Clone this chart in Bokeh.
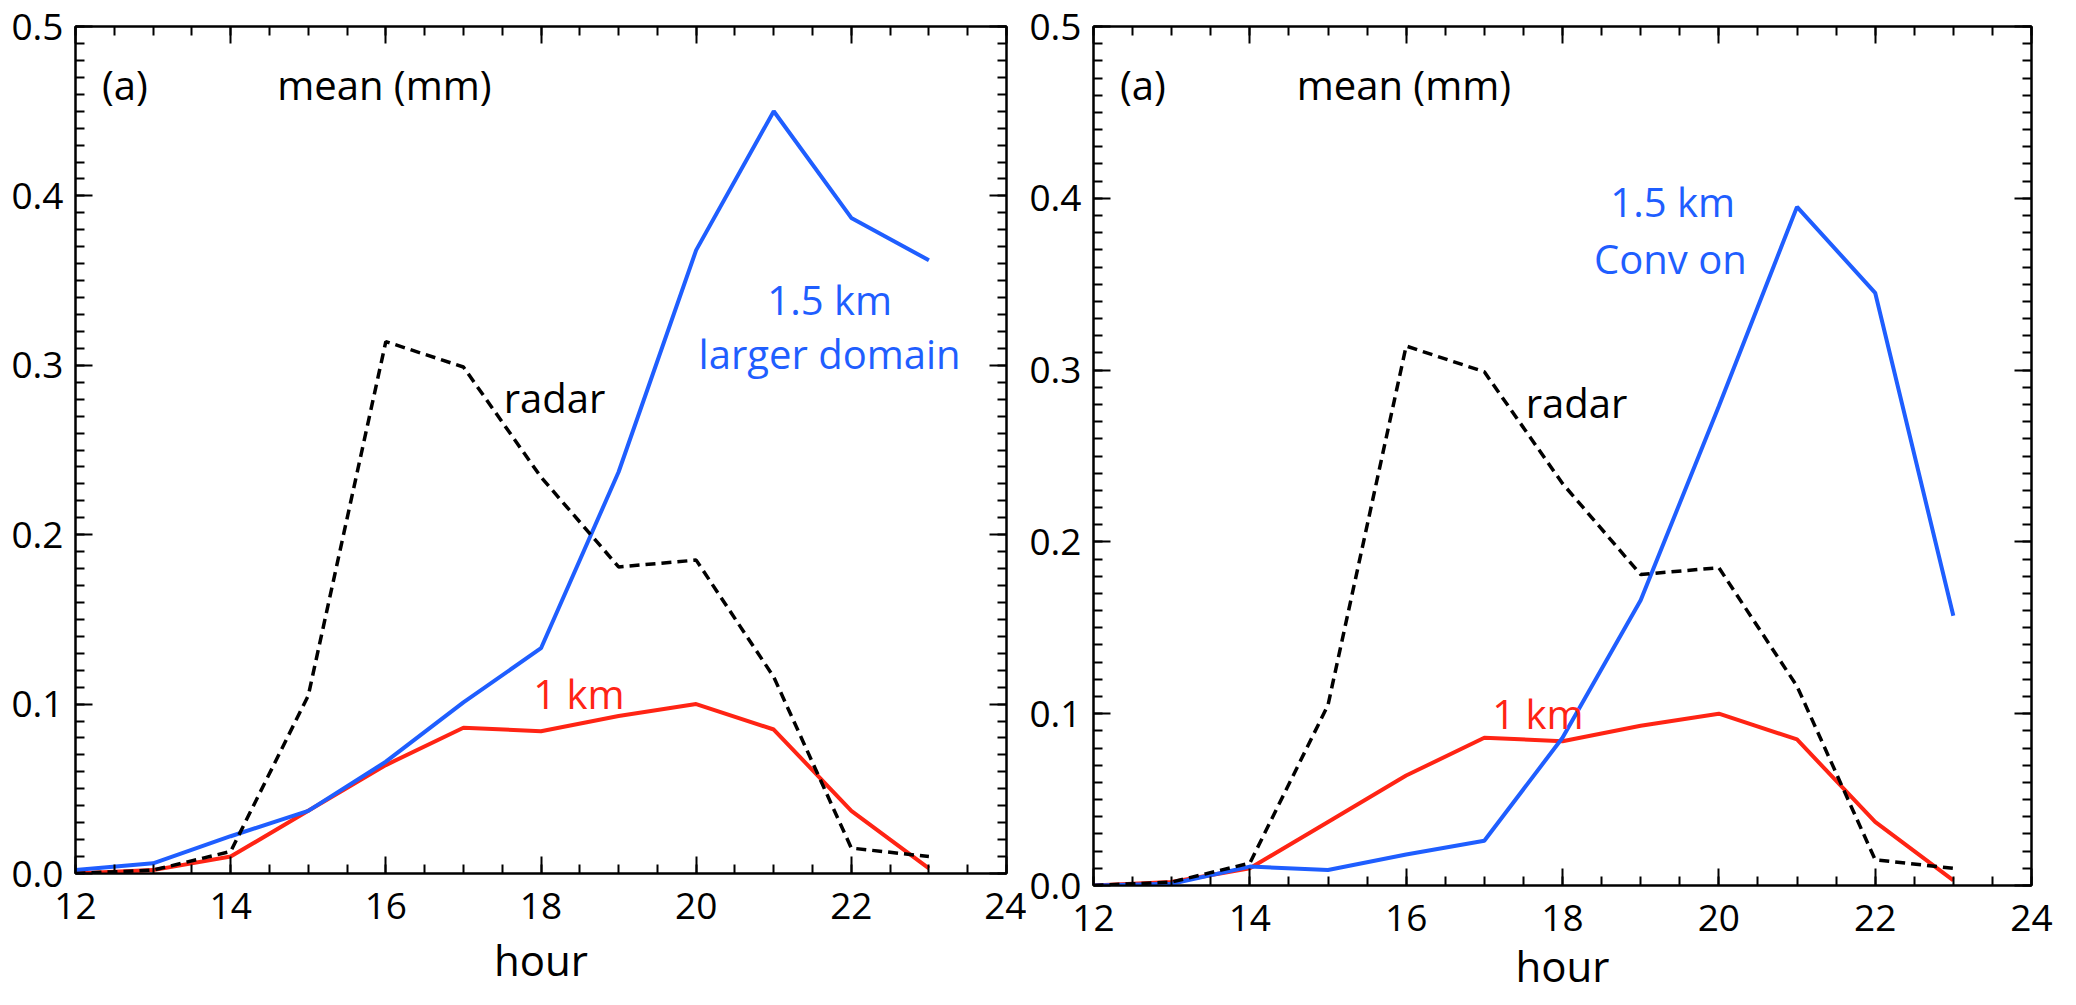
from bokeh.plotting import figure
from bokeh.layouts import row
from bokeh.models import (Label, SingleIntervalTicker, LinearAxis, Title,
                          PrintfTickFormatter, CustomJSTickFormatter, Range1d)
from bokeh.embed import file_html
from bokeh.resources import INLINE

# ---------------- data ----------------
hours = [12, 13, 14, 15, 16, 17, 18, 19, 20, 21, 22, 23]
radar = [0.0, 0.002, 0.013, 0.105, 0.314, 0.299, 0.234, 0.181, 0.185, 0.116, 0.015, 0.010]
km1 = [0.0, 0.002, 0.010, 0.037, 0.064, 0.086, 0.084, 0.093, 0.100, 0.085, 0.037, 0.003]
km15_larger = [0.002, 0.006, 0.022, 0.037, 0.066, 0.101, 0.133, 0.237, 0.368, 0.450, 0.387, 0.362]
km15_conv = [0.000, 0.001, 0.011, 0.009, 0.018, 0.026, 0.086, 0.166, 0.279, 0.395, 0.345, 0.157]

x_label = "hour"
panel_tag = "(a)"
title_text = "mean (mm)"

FONT = "Open Sans"
BLUE = "#1f5eff"
RED = "#ff2414"
TICK_SIZE = "37px"
TEXT_SIZE = "40px"


def style_axis(ax, labels=True):
    ax.axis_line_color = "black"
    ax.axis_line_width = 2
    ax.major_tick_in = 17
    ax.major_tick_out = 0
    ax.minor_tick_in = 9
    ax.minor_tick_out = 0
    ax.major_tick_line_width = 2
    ax.minor_tick_line_width = 2
    ax.major_tick_line_color = "black"
    ax.minor_tick_line_color = "black"
    ax.major_label_text_font = FONT
    ax.major_label_text_color = "black"
    ax.major_label_text_font_size = TICK_SIZE
    ax.major_label_text_line_height = 1.0
    if not labels:
        ax.formatter = CustomJSTickFormatter(code="return ''")
        ax.major_label_standoff = 0


def make_panel(blue, blue_lines, layout):
    p = figure(width=layout["width"], height=layout["height"],
               x_range=Range1d(12, 24), y_range=Range1d(0, 0.5),
               output_backend="svg", toolbar_location=None,
               x_axis_location=None, y_axis_location=None,
               frame_align=False,
               min_border_left=layout["left"], min_border_right=layout["right"],
               min_border_top=layout["top"], min_border_bottom=layout["bottom"])
    p.grid.visible = False
    p.outline_line_color = "black"
    p.outline_line_width = 2
    p.background_fill_color = "white"
    p.border_fill_color = "white"

    for place in ("below", "above", "left", "right"):
        if place in ("below", "above"):
            tk = SingleIntervalTicker(interval=2, num_minor_ticks=4)
        else:
            tk = SingleIntervalTicker(interval=0.1, num_minor_ticks=10)
        ax = LinearAxis(ticker=tk)
        if place in ("left", "right"):
            ax.formatter = PrintfTickFormatter(format="%.1f")
        style_axis(ax, labels=place in ("below", "left"))
        if place == "left":
            ax.major_label_standoff = 12
        if place == "below":
            ax.major_label_standoff = layout["tick_standoff"]
        p.add_layout(ax, place)

    p.add_layout(Title(text=x_label, align="center", offset=layout["hour_off"],
                       text_font=FONT, text_font_size="42px", text_font_style="normal",
                       text_line_height=0.7,
                       text_color="black", standoff=layout["hour_standoff"]), "below")

    p.line(hours, km1, line_color=RED, line_width=4)
    p.line(hours, blue, line_color=BLUE, line_width=4)
    p.line(hours, radar, line_color="black", line_width=3.5, line_dash="10 6")

    def lab(x, y, t, color="black", align="left"):
        p.add_layout(Label(x=x, y=y, text=t, text_font=FONT, text_font_size=TEXT_SIZE,
                           text_color=color, text_align=align, text_baseline="middle"))

    lab(12.34, 0.466, panel_tag)
    lab(14.6, 0.466, title_text)
    lab(layout["radar_x"], 0.281, "radar")
    lab(layout["km1_x"], layout["km1_y"], "1 km", RED)
    for (bx, by, bt) in blue_lines:
        lab(bx, by, bt, BLUE, "center")
    return p


left = make_panel(km15_larger,
                  [(21.72, 0.339, "1.5 km"), (21.72, 0.307, "larger domain")],
                  dict(width=1026, height=997, left=75, right=20, top=26, bottom=124,
                       radar_x=17.52, km1_x=17.9, km1_y=0.106,
                       tick_standoff=19, hour_off=-46, hour_standoff=15))
right = make_panel(km15_conv,
                   [(19.41, 0.398, "1.5 km"), (19.38, 0.365, "Conv on")],
                   dict(width=1032, height=997, left=61, right=27, top=26, bottom=112,
                        radar_x=17.53, km1_x=17.1, km1_y=0.100,
                        tick_standoff=19, hour_off=-47, hour_standoff=3))

layout = row(left, right)
open("out.html", "w").write(file_html(layout, INLINE))
